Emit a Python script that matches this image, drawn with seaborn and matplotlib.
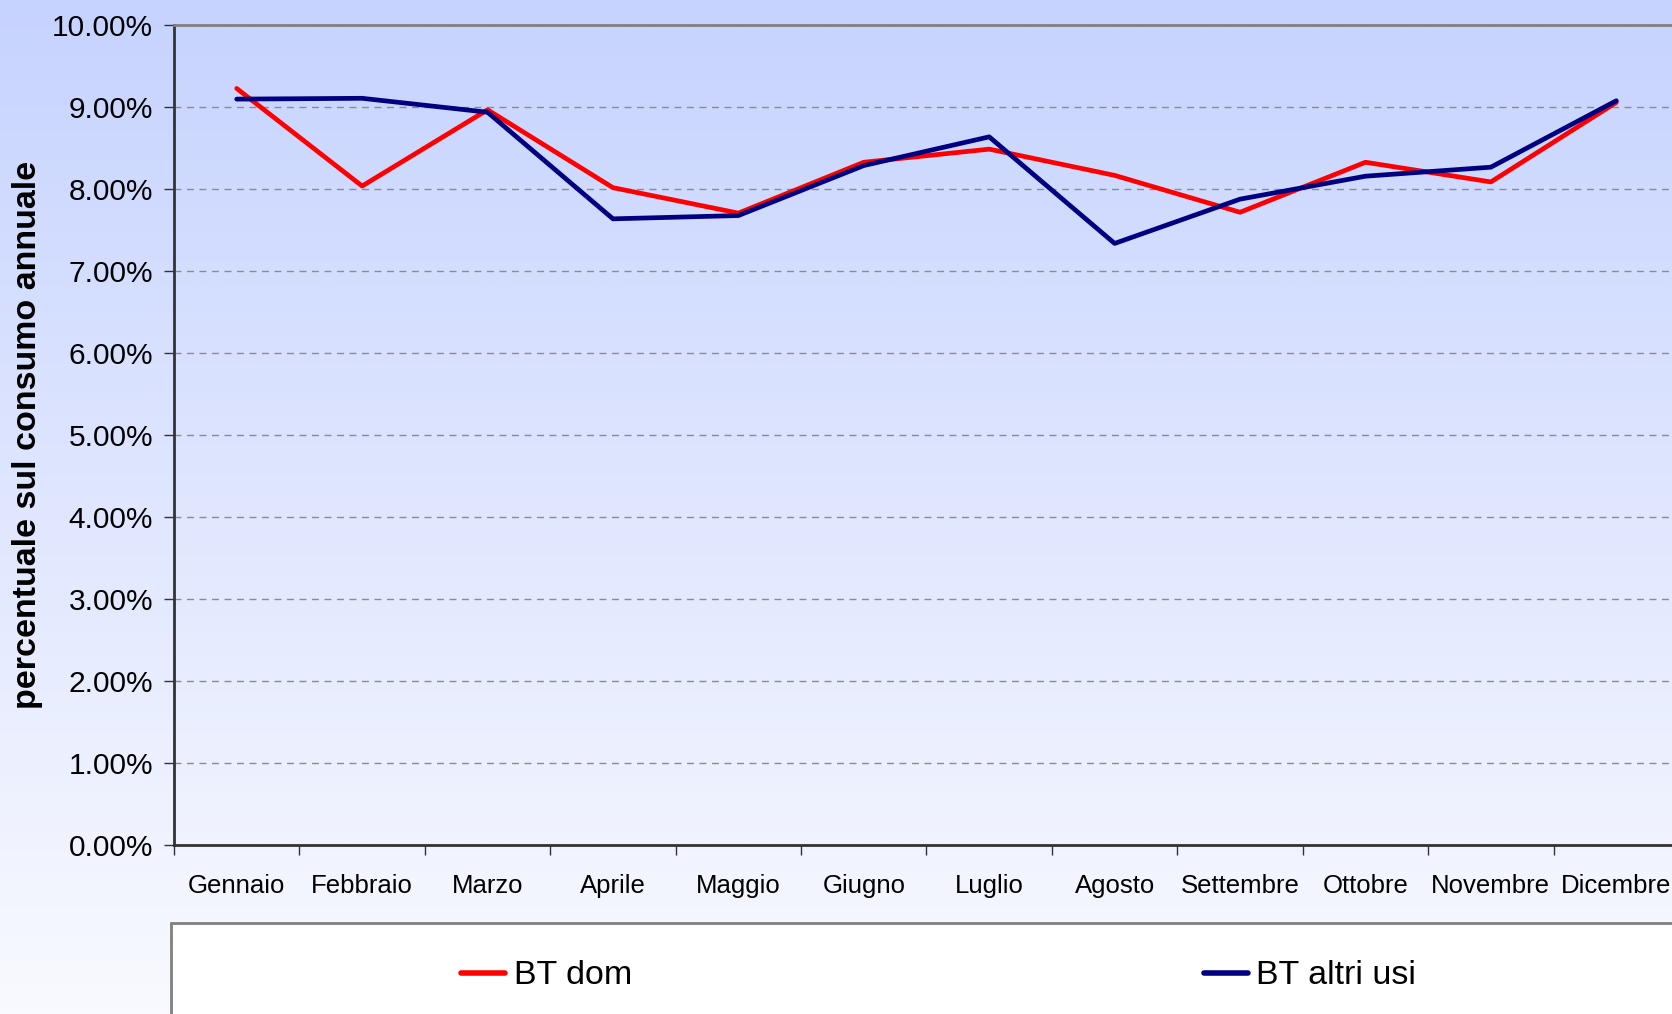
import numpy as np
import pandas as pd
import matplotlib
matplotlib.use("Agg")
import matplotlib.pyplot as plt
import matplotlib.ticker as mticker
from matplotlib.patches import Rectangle
import seaborn as sns

# ------------------------------------------------------------------
# data (percent of annual consumption)
# ------------------------------------------------------------------
mesi = ['Gennaio', 'Febbraio', 'Marzo', 'Aprile', 'Maggio', 'Giugno',
        'Luglio', 'Agosto', 'Settembre', 'Ottobre', 'Novembre', 'Dicembre']
bt_dom = [9.22, 8.03, 8.96, 8.01, 7.70, 8.32, 8.48, 8.16, 7.71, 8.32, 8.08, 9.05]
bt_altri_usi = [9.09, 9.10, 8.93, 7.63, 7.67, 8.28, 8.63, 7.33, 7.87, 8.15, 8.26, 9.07]
serie = ['BT dom', 'BT altri usi']
colori = ['#FF0000', '#000080']

df = pd.DataFrame({
    'pos': list(range(len(mesi))) * 2,
    'mese': mesi * 2,
    'valore': bt_dom + bt_altri_usi,
    'serie': [serie[0]] * len(mesi) + [serie[1]] * len(mesi),
})

sns.set_style("white")
plt.rcParams['font.family'] = ['Liberation Sans', 'DejaVu Sans']
plt.rcParams['text.color'] = 'black'
plt.rcParams['axes.labelcolor'] = 'black'
plt.rcParams['xtick.color'] = 'black'
plt.rcParams['ytick.color'] = 'black'

W, H = 1672, 1014
fig = plt.figure(figsize=(W / 100, H / 100), dpi=100)

# background gradient (whole figure)
bg = fig.add_axes([0, 0, 1, 1], zorder=-10)
top = np.array([198, 211, 254]) / 255
bot = np.array([249, 250, 255]) / 255
t = np.linspace(0, 1, 256)[:, None]
grad = top[None, :] * (1 - t) + bot[None, :] * t
bg.imshow(grad[:, None, :], aspect='auto', extent=[0, 1, 0, 1])
bg.set_axis_off()

# legend box (white, grey border, runs off the figure)
fig.patches.append(Rectangle((171 / W, -0.05), 1.1, (1014 - 923) / H + 0.05,
                             transform=fig.transFigure, facecolor='white',
                             edgecolor='#808080', linewidth=2, zorder=1))

# main axes (right edge slightly beyond the figure, as in the reference)
left, right = 174 / W, 1679 / W
bottom, topf = 1 - 844.5 / H, 1 - 24.5 / H
ax = fig.add_axes([left, bottom, right - left, topf - bottom])
ax.set_facecolor('none')

sns.lineplot(data=df, x='pos', y='valore', hue='serie', palette=colori,
             sort=False, linewidth=3.4, ax=ax, legend=True)

ax.set_xlim(-0.5, len(mesi) - 0.5)
ax.set_ylim(0, 10)

# y axis
ax.yaxis.set_major_locator(mticker.MultipleLocator(1))
ax.yaxis.set_major_formatter(mticker.FuncFormatter(lambda v, p: f"{v:.2f}%"))
ax.tick_params(axis='y', direction='out', length=7, width=1, color='#333333',
               labelsize=21.5, pad=8, left=True, labelcolor='black')
ax.grid(axis='y', color='#8c8c8c', linestyle=(0, (5, 4)), linewidth=1)
ax.grid(axis='x', visible=False)

# x axis: ticks between categories, labels at centers
ax.set_xticks(np.arange(-0.5, len(mesi), 1))
ax.set_xticklabels([])
ax.set_xticks(np.arange(len(mesi)), minor=True)
ax.set_xticklabels(mesi, minor=True)
ax.tick_params(axis='x', which='major', direction='out', length=7, width=1,
               color='#333333', bottom=True)
ax.tick_params(axis='x', which='minor', length=0, labelsize=18.5, pad=21,
               labelcolor='black')

ax.set_xlabel('')
ax.set_ylabel('percentuale sul consumo annuale', fontsize=24.5,
              fontweight='bold', color='black')
ax.yaxis.set_label_coords(-0.087, 0.5)

for s in ['left', 'bottom']:
    ax.spines[s].set_color('#333333')
    ax.spines[s].set_linewidth(2)
ax.spines['top'].set_color('#808080')
ax.spines['top'].set_linewidth(2)
ax.spines['right'].set_visible(False)

# legend
handles, labels = ax.get_legend_handles_labels()
ax.get_legend().remove()
leg = fig.legend(handles, labels, loc='center left',
                 bbox_to_anchor=(461 / W, 1 - 976 / H), ncol=2, frameon=False,
                 fontsize=24.5, handlelength=1.3, handletextpad=0.25,
                 columnspacing=16.8, borderpad=0, borderaxespad=0)
leg.set_zorder(5)
for line in leg.get_lines():
    line.set_linewidth(4)

fig.savefig('out.png', dpi=100)
